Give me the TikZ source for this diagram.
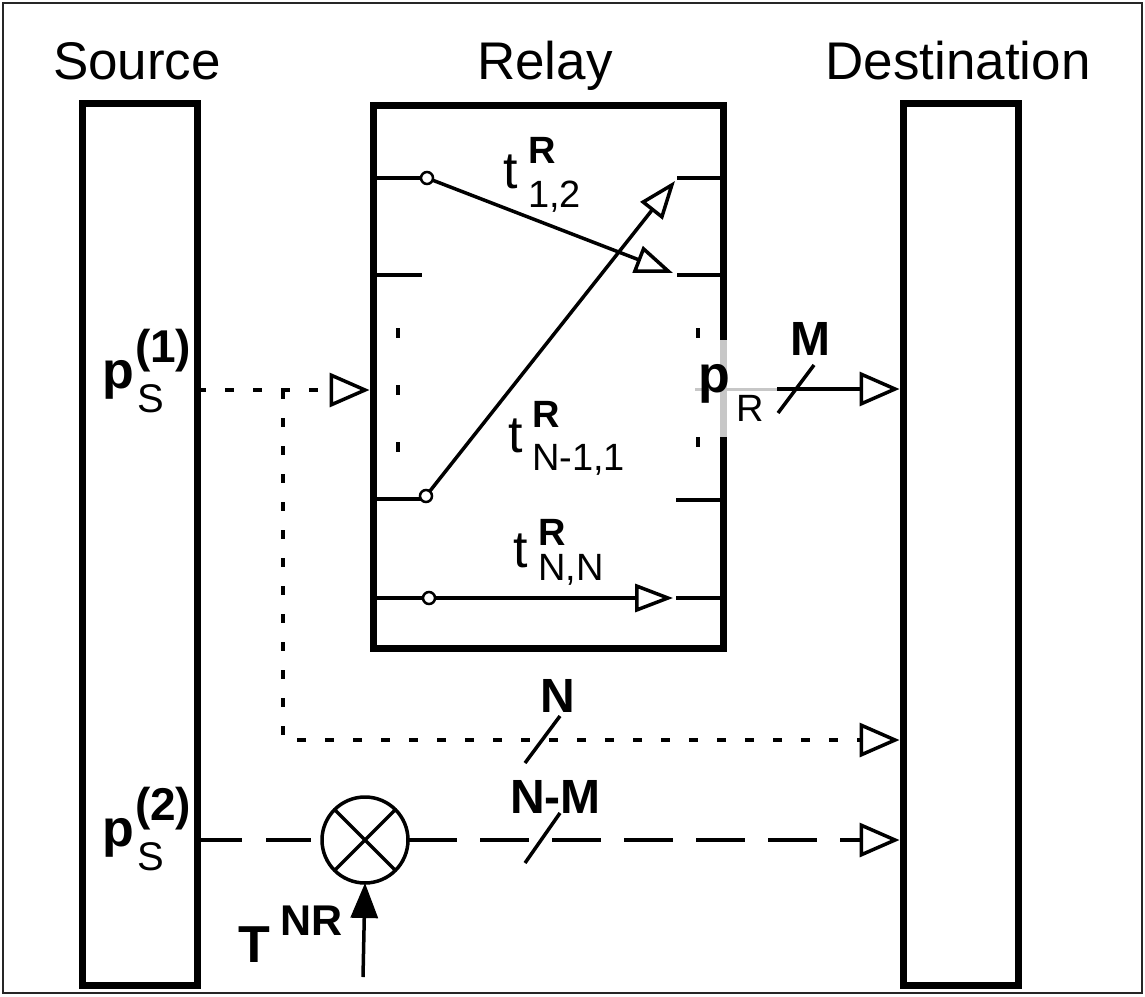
\documentclass[tikz,border=0pt]{standalone}
\usepackage{fontspec}
\setmainfont{Liberation Sans}
\usetikzlibrary{arrows.meta}
\newcommand{\fsz}[1]{\fontsize{#1}{#1}\selectfont}
\begin{document}
\begin{tikzpicture}[x=1pt,y=-1pt,
  bigbox/.style={draw, line width=7pt, inner sep=0pt, outer sep=0pt},
  wire/.style={line width=3.5pt},
  dotline/.style={line width=4pt, dash pattern=on 9pt off 19pt},
  dashline/.style={line width=4pt, dash pattern=on 45pt off 24pt},
  dashlineb/.style={line width=4pt, dash pattern=on 49pt off 23pt},
  openarr/.style={-{Triangle[open, length=40pt, width=34pt, line width=3.5pt]}},
  innerarr/.style={-{Triangle[open, length=38pt, width=28pt, line width=3.5pt]}},
  lbl/.style={inner sep=0pt, outer sep=0pt, anchor=base west},
  ttl/.style={inner sep=0pt, outer sep=0pt, anchor=base},
  pin/.style={circle, draw, line width=2.5pt, fill=white, minimum size=12pt, inner sep=0pt, outer sep=0pt},
  ghost/.style={black!22},
]
\useasboundingbox (0,0) rectangle (1145,996);
\draw[line width=2pt, black!85] (3,3) rectangle (1142,993);

% titles
\node[ttl] (tsrc) at (137,79) {\fsz{53}Source};
\node[ttl] (trel) at (545,79) {\fsz{53}Relay};
\node[ttl] (tdst) at (958,79) {\fsz{53}Destination};

% source and destination
\node[bigbox, minimum width=115pt, minimum height=882pt] (src) at (139.5,544) {};
\node[bigbox, minimum width=115pt, minimum height=882pt] (dst) at (960.5,544) {};

% relay box
\coordinate (rgapT) at (723,340);
\coordinate (rgapB) at (723,437);
\draw[line width=7pt] (rgapT) -- (723,105) -- (373,105) -- (373,648) -- (723,648) -- (rgapB);
\draw[ghost, line width=7pt] (rgapT) -- (rgapB);

% relay stubs
\draw[wire] (373,178) -- (422,178);
\draw[wire] (373,275) -- (422,275);
\draw[wire] (373,499) -- (421,499);
\draw[wire] (373,598) -- (424,598);
\draw[wire] (677,178) -- (723,178);
\draw[wire] (677,275) -- (723,275);
\draw[wire] (676,500) -- (723,500);
\draw[wire] (676,598) -- (723,598);

% relay dots
\foreach \yy in {333,390,447} \draw[line width=3.5pt] (398,\yy-5) -- (398,\yy+5);
\foreach \yy in {333,442} \draw[line width=3.5pt] (698,\yy-5) -- (698,\yy+5);

% relay switches
\node[pin] (c1) at (427,178) {};
\node[pin] (c2) at (426,496) {};
\node[pin] (c3) at (429,598) {};
\coordinate (e1) at (673,273);
\coordinate (e2) at (675,181);
\coordinate (e3) at (673,598);
\draw[wire, innerarr] (c1) -- (e1);
\draw[wire, innerarr] (c2) -- (e2);
\draw[wire, innerarr] (c3) -- (e3);

% relay labels
\node[lbl] at (503,188) {\fsz{52}t};
\node[lbl] at (528,163) {\fsz{38}\bfseries R};
\node[lbl] at (528,207) {\fsz{38}1,2};
\node[lbl] at (508,452) {\fsz{52}t};
\node[lbl] at (532,427) {\fsz{38}\bfseries R};
\node[lbl] at (532,470) {\fsz{38}N-1,1};
\node[lbl] at (513,567) {\fsz{52}t};
\node[lbl] at (538,545) {\fsz{38}\bfseries R};
\node[lbl] at (538,580) {\fsz{38}N,N};

% relay output
\coordinate (pr0) at (695,389);
\coordinate (pr1) at (777,389);
\coordinate (pr2) at (899.5,389);
\draw[ghost, line width=3pt] (pr0) -- (pr1);
\draw[line width=3.5pt, openarr] (pr1) -- (pr2);
\draw[wire] (778,413) -- (814,365);
\node[lbl] (pR) at (698,392) {\fsz{52}\bfseries p};
\node[lbl] at (736,421) {\fsz{38}R};
\node[lbl] (lM) at (790,355) {\fsz{48}\bfseries M};

% source labels
\node[lbl] (p1) at (102,388) {\fsz{52}\bfseries p};
\node[lbl] at (135,362) {\fsz{46}\bfseries (1)};
\node[lbl] at (137,412) {\fsz{40}S};
\node[lbl] (p2) at (102,846) {\fsz{52}\bfseries p};
\node[lbl] at (135,820) {\fsz{46}\bfseries (2)};
\node[lbl] at (137,870) {\fsz{40}S};

% dotted paths
\coordinate (s1) at (src.east |- 0,390);
\coordinate (r1) at (369.5,390);
\coordinate (br) at (283,390);
\coordinate (bd) at (283,740);
\coordinate (d1) at (899.5,740);
\draw[dotline, openarr] (s1) -- (r1);
\draw[dotline, openarr] (br) -- (bd) -- (d1);
\draw[wire] (525,763) -- (560,716);
\node[lbl] (lN) at (540,712) {\fsz{48}\bfseries N};

% dashed path with multiplier
\node[circle, draw, line width=3.5pt, minimum size=86pt, inner sep=0pt, outer sep=0pt] (mul) at (365,840) {};
\draw[wire] (mul.45) -- (mul.225) (mul.135) -- (mul.315);
\coordinate (s2) at (src.east |- 0,840);
\coordinate (d2) at (899.5,840);
\draw[dashline] (s2) -- (mul.west);
\draw[dashlineb, openarr] (mul.east) -- (d2);
\draw[wire] (525,863) -- (560,813);
\node[lbl] (lNM) at (510,813) {\fsz{48}\bfseries N-M};

% T^NR input
\coordinate (tb) at (363,977);
\draw[wire, -{Triangle[length=35pt, width=27pt]}] (tb) -- (mul.south);
\node[lbl] (lT) at (238,962) {\fsz{52}\bfseries T};
\node[lbl] at (280,935) {\fsz{43}\bfseries NR};
\end{tikzpicture}
\end{document}
